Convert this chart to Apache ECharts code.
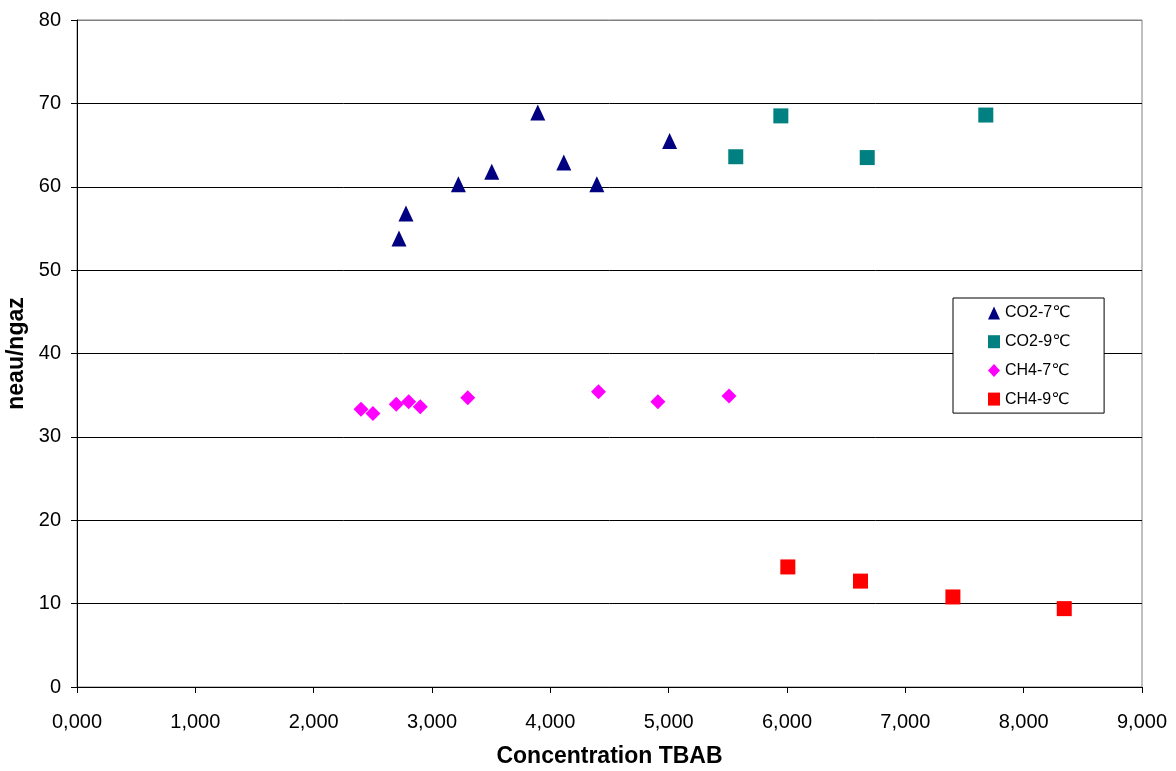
<!DOCTYPE html>
<html>
<head>
<meta charset="utf-8">
<script src="https://cdn.jsdelivr.net/npm/echarts@6/dist/echarts.min.js"></script>
<style>html,body{margin:0;padding:0;background:#fff;}#c{width:1176px;height:771px;}</style>
</head>
<body>
<div id="c"></div>
<script>
// Data
const co2_7 = [[2.721,53.8],[2.780,56.8],[3.223,60.3],[3.505,61.8],[3.894,68.9],[4.114,62.9],[4.393,60.3],[5.008,65.5]];
const co2_9 = [[5.567,63.6],[5.948,68.5],[6.678,63.5],[7.680,68.6]];
const ch4_7 = [[2.400,33.3],[2.501,32.8],[2.698,33.9],[2.803,34.2],[2.901,33.6],[3.302,34.7],[4.407,35.4],[4.909,34.2],[5.510,34.9]];
const ch4_9 = [[6.007,14.4],[6.621,12.7],[7.402,10.8],[8.343,9.4]];
const seriesNames = ['CO2-7℃','CO2-9℃','CH4-7℃','CH4-9℃'];
const xTitle = 'Concentration TBAB';
const yTitle = 'neau/ngaz';

const font = '"Liberation Sans", Arial, "DejaVu Sans", sans-serif';
const chart = echarts.init(document.getElementById('c'), null, {renderer:'canvas'});
const gridColors = ['#000','#000','#000','#000','#000','#000','#000','#000','#808080'];
chart.setOption({
  animation: false,
  backgroundColor: '#fff',
  textStyle: {fontFamily: font},
  grid: {left: 77, right: 34, top: 20, bottom: 84, containLabel: false, outerBoundsMode: 'none',
    show: true, borderColor: '#808080', borderWidth: 1, backgroundColor: 'transparent'},
  legend: {
    orient: 'vertical', left: 953, top: 298,
    padding: [7, 34, 6, 35],
    itemGap: 12.7, itemWidth: 12, itemHeight: 13,
    borderColor: '#000', borderWidth: 1, backgroundColor: '#fff',
    textStyle: {fontSize: 16, color: '#000', fontFamily: font, lineHeight: 16},
    data: seriesNames
  },
  xAxis: {
    type: 'value', min: 0, max: 9, interval: 1,
    name: xTitle, nameLocation: 'middle', nameGap: 58,
    nameTextStyle: {fontSize: 23, fontWeight: 'bold', color: '#000', fontFamily: font},
    axisLine: {show: true, lineStyle: {color: '#000', width: 1}},
    axisTick: {show: true, length: 6, inside: false, lineStyle: {color: '#000'}},
    axisLabel: {fontSize: 20, color: '#000', margin: 25, fontFamily: font,
      formatter: v => v.toFixed(3).replace('.', ',')},
    splitLine: {show: false}
  },
  yAxis: {
    type: 'value', min: 0, max: 80, interval: 10,
    name: yTitle, nameLocation: 'middle', nameGap: 42,
    nameTextStyle: {fontSize: 23, fontWeight: 'bold', color: '#000', fontFamily: font},
    axisLine: {show: true, lineStyle: {color: '#000', width: 1}},
    axisTick: {show: true, length: 6, inside: false, lineStyle: {color: '#000'}},
    axisLabel: {fontSize: 20, color: '#000', margin: 16, fontFamily: font},
    splitLine: {show: true, lineStyle: {color: gridColors, width: 1}}
  },
  series: [
    {name: seriesNames[0], type: 'scatter', data: co2_7, symbol: 'triangle', symbolSize: [15, 16], itemStyle: {color: '#000080', opacity: 1}},
    {name: seriesNames[1], type: 'scatter', data: co2_9, symbol: 'rect', symbolSize: 15, itemStyle: {color: '#008080', opacity: 1}},
    {name: seriesNames[2], type: 'scatter', data: ch4_7, symbol: 'diamond', symbolSize: 15, itemStyle: {color: '#FF00FF', opacity: 1}},
    {name: seriesNames[3], type: 'scatter', data: ch4_9, symbol: 'rect', symbolSize: 15, itemStyle: {color: '#FF0000', opacity: 1}}
  ]
});
</script>
</body>
</html>
